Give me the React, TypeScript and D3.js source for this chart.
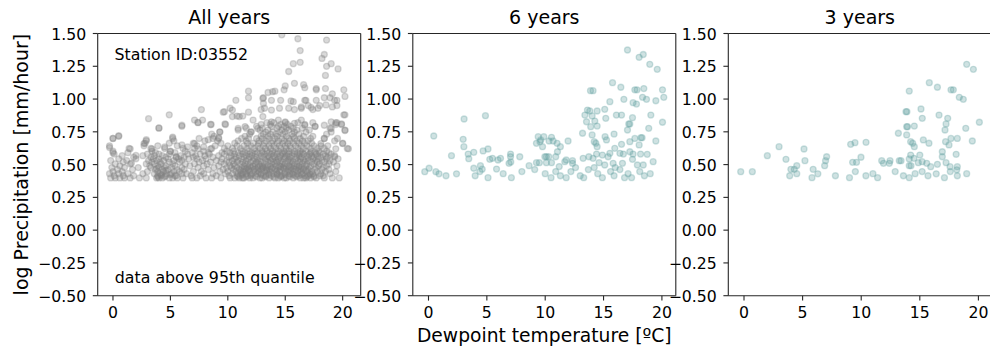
import React from "react";
import * as d3 from "d3";

// ---------- data ----------
const panelTitles = ["All years", "6 years", "3 years"];
const xTickValues = [0, 5, 10, 15, 20];
const yTickValues = [1.5, 1.25, 1.0, 0.75, 0.5, 0.25, 0, -0.25, -0.5];
const yLimits: [number, number] = [-0.5, 1.5];
const xLimits: [number, number][] = [
  [-1.33, 21.57],
  [-1.345, 21.19],
  [-1.34, 21.1],
];
const yLabel = "log Precipitation [mm/hour]";
const xLabel = "Dewpoint temperature [ºC]";
const stationText = "Station ID:03552";
const quantileText = "data above 95th quantile";

// All years: dense band, dewpoints per log-precipitation level
const allYearsRows: [number, number[]][] = [
  [0.398, [-0.2, 0.2, 0.6, 1.0, 1.5, 2.3, 2.9, 3.8, 4.0, 4.3, 4.9, 5.2, 5.6, 6.1, 6.9, 7.3, 8.1, 8.6, 9.4, 10.2, 10.6, 11.0, 11.3, 11.4, 11.9, 12.2, 12.8, 13.0, 13.6, 14.1, 14.4, 14.9, 15.1, 15.7, 16.3, 16.6, 16.8, 17.2, 17.7, 18.4, 19.1, 19.7]],
  [0.407, [3.9, 4.5, 10.9, 11.6, 12.5, 13.3, 14.0, 14.6, 15.4, 16.0, 16.9, 17.5]],
  [0.415, [0.1, 0.9, 1.8, 3.9, 4.2, 4.6, 5.4, 5.5, 6.8, 7.6, 9.0, 10.1, 10.8, 11.1, 11.7, 12.0, 12.4, 13.1, 13.3, 13.8, 14.6, 14.7, 15.3, 15.9, 16.2, 16.7, 17.0, 17.5, 18.0, 18.3]],
  [0.424, [4.2, 5.0, 11.3, 12.0, 12.9, 13.6, 14.3, 15.0, 15.7, 16.4, 17.2]],
  [0.431, [-0.3, 0.5, 1.3, 2.6, 3.6, 4.1, 4.7, 5.1, 6.0, 6.4, 7.9, 8.7, 9.8, 10.4, 10.9, 11.2, 11.6, 12.1, 12.6, 12.9, 13.5, 14.0, 14.3, 14.9, 15.4, 15.6, 16.1, 16.5, 17.1, 17.4, 18.1, 18.9]],
  [0.447, [0.0, 0.8, 3.0, 3.9, 4.4, 5.3, 5.8, 7.0, 7.7, 9.3, 10.0, 10.7, 11.3, 11.5, 11.9, 12.4, 12.7, 13.2, 13.7, 14.2, 14.5, 15.0, 15.2, 15.8, 16.4, 16.9, 17.3, 17.8, 18.5, 19.4]],
  [0.455, [4.6, 11.1, 11.8, 12.6, 13.4, 14.3, 15.5, 16.1, 16.8]],
  [0.462, [0.4, 1.7, 3.7, 4.3, 4.8, 5.6, 6.2, 8.3, 9.6, 10.5, 11.0, 11.4, 11.8, 12.3, 12.9, 13.4, 13.6, 14.1, 14.6, 15.3, 15.9, 16.3, 16.6, 17.0, 17.6, 18.2, 18.8]],
  [0.47, [3.8, 11.6, 12.4, 13.0, 13.8, 14.9, 15.7, 16.6]],
  [0.477, [-0.1, 1.0, 2.2, 3.3, 4.0, 4.5, 5.1, 6.0, 7.4, 8.8, 9.9, 10.3, 10.8, 11.2, 11.7, 12.0, 12.6, 13.1, 13.3, 13.9, 14.4, 14.8, 15.1, 15.5, 16.0, 16.4, 17.1, 17.7, 18.3]],
  [0.484, [12.2, 13.0, 13.7, 14.6, 15.4, 16.2]],
  [0.491, [0.6, 3.2, 3.9, 4.6, 5.4, 6.7, 7.9, 9.2, 10.2, 10.6, 11.4, 11.9, 12.2, 12.8, 13.0, 13.5, 14.2, 14.5, 14.9, 15.3, 15.8, 16.2, 16.8, 17.2, 17.9, 18.6, 19.5]],
  [0.505, [0.2, 1.5, 2.9, 3.6, 4.2, 5.2, 6.3, 7.1, 8.2, 9.7, 10.5, 11.1, 11.5, 11.7, 12.4, 12.7, 13.2, 13.8, 14.1, 14.7, 15.0, 15.6, 16.0, 16.5, 16.9, 17.5, 18.0, 18.8]],
  [0.519, [0.9, 3.4, 4.1, 4.9, 5.8, 7.5, 8.5, 9.4, 10.1, 10.8, 11.3, 12.0, 12.5, 12.9, 13.5, 14.0, 14.3, 14.8, 15.4, 15.7, 16.3, 16.7, 17.3, 17.8, 18.4, 19.2]],
  [0.531, [-0.2, 1.2, 3.1, 3.8, 4.4, 5.3, 6.0, 7.8, 9.0, 9.9, 10.4, 10.9, 11.6, 12.2, 12.6, 13.3, 13.7, 14.2, 14.6, 15.2, 15.5, 16.1, 16.6, 17.0, 17.6, 18.2, 18.9]],
  [0.544, [0.5, 2.0, 3.5, 4.0, 4.8, 5.7, 6.6, 7.3, 8.1, 9.5, 10.6, 11.2, 11.8, 12.3, 12.8, 13.4, 13.9, 14.4, 14.9, 15.3, 15.9, 16.3, 16.8, 17.4, 17.9, 18.6, 19.6]],
  [0.556, [1.8, 3.3, 4.6, 5.5, 6.2, 7.0, 8.7, 10.1, 10.7, 11.4, 11.9, 12.5, 13.1, 13.6, 14.1, 14.5, 15.0, 15.4, 16.0, 16.4, 17.0, 17.5, 18.1, 18.7]],
  [0.568, [0.8, 2.6, 3.6, 4.3, 5.9, 7.2, 8.0, 9.2, 10.3, 11.0, 11.6, 12.1, 12.9, 13.5, 14.0, 14.6, 15.1, 15.6, 16.2, 16.9, 17.3, 17.8, 18.5, 19.3]],
  [0.58, [0.1, 3.0, 4.0, 4.9, 6.5, 7.6, 8.4, 9.7, 10.6, 11.3, 11.9, 12.4, 13.2, 13.8, 14.3, 14.8, 15.3, 15.8, 16.3, 16.6, 17.1, 17.7, 18.3, 19.0]],
  [0.591, [1.3, 3.7, 5.4, 6.9, 8.3, 9.5, 10.2, 10.9, 11.5, 12.1, 12.6, 13.0, 13.6, 14.1, 14.7, 15.0, 15.6, 16.1, 16.5, 17.2, 17.6, 18.0, 18.8]],
  [0.602, [0.0, 3.4, 5.0, 6.3, 7.9, 9.9, 10.5, 11.2, 11.8, 12.4, 13.0, 13.4, 13.9, 14.4, 14.9, 15.3, 15.8, 16.3, 16.8, 17.3, 17.9, 18.6]],
  [0.623, [1.4, 3.3, 4.5, 6.1, 7.1, 8.6, 9.7, 10.4, 11.1, 11.7, 12.3, 12.8, 13.3, 13.7, 14.2, 14.6, 15.1, 15.5, 16.1, 16.6, 17.2, 17.8, 18.4, 20.4]],
  [0.643, [-0.3, 2.7, 3.9, 5.6, 7.3, 8.9, 10.0, 10.8, 11.4, 12.0, 12.6, 13.1, 13.6, 14.0, 14.5, 15.0, 15.4, 15.9, 16.4, 16.9, 17.5, 18.1, 18.7]],
  [0.663, [2.8, 4.9, 7.0, 9.4, 10.6, 11.7, 12.2, 12.7, 13.2, 13.8, 14.3, 14.8, 15.2, 15.7, 16.2, 16.7, 17.3, 20.0]],
  [0.681, [2.9, 5.3, 8.0, 9.1, 10.9, 11.6, 12.7, 13.3, 13.9, 14.4, 14.9, 15.4, 16.0, 16.5, 17.0, 19.3]],
  [0.699, [0.0, 5.2, 7.5, 9.2, 11.2, 11.8, 12.5, 13.0, 13.6, 14.1, 14.7, 15.3, 15.8, 16.3, 17.2, 18.4]],
  [0.716, [0.5, 8.8, 11.5, 12.9, 13.5, 14.3, 15.1, 15.7, 16.6, 17.4]],
  [0.732, [8.6, 11.9, 13.1, 13.7, 14.2, 14.8, 15.6, 16.2, 18.6]],
  [0.748, [9.3, 12.0, 13.3, 13.9, 14.5, 15.0, 15.8, 16.8, 19.0]],
  [0.763, [10.9, 12.8, 13.5, 14.7, 15.3, 16.0, 17.1, 20.2]],
  [0.778, [4.0, 11.6, 13.0, 14.3, 15.1, 15.7, 16.5, 18.9]],
  [0.792, [6.0, 12.5, 13.8, 14.4, 14.9, 15.5, 17.6]],
  [0.806, [8.5, 9.8, 12.9, 13.7, 14.6, 15.2, 16.7, 19.4, 19.9]],
  [0.82, [7.4, 13.4, 14.0, 15.0, 16.1, 17.4, 19.5]],
];

// All years: scattered points [dewpoint, log precipitation]
const allYearsScatter: [number, number][] = [
  [14.7, 1.49], [16.1, 1.46], [18.6, 1.45], [16.3, 1.37], [18.4, 1.34], [18.2, 1.31], [15.7, 1.27], [16.3, 1.28],
  [15.3, 1.21], [18.6, 1.25], [19.0, 1.27], [19.6, 1.23], [18.5, 1.18], [15.8, 1.12], [16.6, 1.11], [15.0, 1.1],
  [11.8, 1.06], [13.5, 1.05], [14.1, 1.06], [13.1, 1.01], [11.8, 1.01], [10.7, 0.99], [14.6, 0.99], [15.7, 0.98],
  [16.7, 0.99], [17.7, 0.99], [17.7, 1.07], [18.5, 1.08], [19.1, 1.04], [20.1, 1.07], [20.2, 1.02], [18.9, 1.01],
  [19.3, 0.99], [17.0, 0.95], [16.4, 0.94], [15.8, 0.92], [15.3, 0.93], [17.4, 0.92], [18.0, 0.95], [19.5, 0.95],
  [20.1, 0.88], [19.9, 0.81], [7.7, 0.92], [9.6, 0.9], [10.2, 0.93], [11.3, 0.87], [10.8, 0.87], [11.8, 0.9],
  [12.9, 0.92], [4.9, 0.88], [3.1, 0.85], [4.0, 0.78], [6.0, 0.8], [7.1, 0.84], [7.8, 0.84], [5.2, 0.71],
  [2.9, 0.69], [0.0, 0.7], [0.5, 0.72], [-0.3, 0.63], [1.5, 0.62], [2.0, 0.57], [0.0, 0.59],
  [13.9, 1.056], [14.9, 1.07], [16.7, 1.087], [17.7, 1.08], [13.05, 1.005], [13.8, 0.99], [15.5, 0.985],
  [16.8, 0.99], [18.4, 1.01], [19.5, 0.99], [13.1, 0.967], [13.2, 0.93], [13.8, 0.916], [14.5, 0.93],
  [16.4, 0.93], [17.25, 0.935], [17.85, 0.93], [18.55, 0.955], [19.1, 0.94], [9.7, 0.904], [10.4, 0.916],
  [11.0, 0.866], [10.4, 0.866], [12.2, 0.84], [13.05, 0.866], [7.4, 0.822], [8.55, 0.806], [9.75, 0.81],
  [13.8, 0.826], [14.4, 0.84], [15.0, 0.826], [15.8, 0.815], [16.4, 0.84], [16.7, 0.8], [17.6, 0.79],
  [18.4, 0.8], [19.0, 0.826], [19.4, 0.82], [20.2, 0.88], [20.2, 0.76], [19.55, 0.7], [19.4, 0.62],
  [20.5, 0.62], [20.0, 0.66], [19.3, 0.56], [18.4, 0.7], [18.1, 0.66], [2.7, 0.66], [3.4, 0.62], [4.5, 0.635],
  [5.0, 0.6], [6.0, 0.65], [6.5, 0.635], [7.1, 0.66], [7.4, 0.62], [7.9, 0.635], [8.5, 0.62], [5.5, 0.56],
  [1.6, 0.51], [9.3, 0.75], [8.7, 0.7], [8.3, 0.69], [9.2, 0.705], [10.9, 0.776], [11.5, 0.79], [12.05, 0.75],
  [12.6, 0.776], [19.0, 0.776],
];

// 6 years
const sixYears: [number, number][] = [
  [17.05, 1.374], [18.05, 1.318], [18.4, 1.34], [18.96, 1.265], [19.6, 1.227],
  [15.77, 1.125], [16.48, 1.09], [17.68, 1.07], [17.87, 1.07], [18.45, 1.08], [20.05, 1.07], [20.16, 1.013],
  [18.34, 1.013], [18.68, 0.998], [19.48, 0.987], [16.74, 0.998], [15.54, 0.98], [17.53, 0.972], [17.82, 0.962],
  [13.88, 1.064], [14.1, 1.064], [13.62, 0.916], [13.82, 0.909], [14.45, 0.909], [13.4, 0.878], [14.02, 0.871],
  [15.1, 0.922], [15.19, 0.853], [16.1, 0.878], [16.54, 0.878], [17.48, 0.858], [19.05, 0.878], [20.05, 0.823],
  [13.54, 0.827], [14.25, 0.832], [13.9, 0.789], [14.45, 0.794], [13.2, 0.739], [14.02, 0.726], [17.16, 0.81], [17.25, 0.81],
  [18.87, 0.777], [17.05, 0.764], [15.13, 0.713], [15.9, 0.733], [14.2, 0.675], [14.34, 0.663], [14.45, 0.637],
  [15.25, 0.688], [16.54, 0.655], [17.25, 0.675], [17.68, 0.7], [18.2, 0.705], [18.3, 0.705], [19.48, 0.68], [18.05, 0.65],
  [15.96, 0.624], [15.54, 0.586], [16.4, 0.586], [16.7, 0.58], [17.25, 0.598], [17.53, 0.58], [18.17, 0.58], [18.74, 0.578],
  [17.48, 0.54], [15.39, 0.56], [14.9, 0.573], [14.4, 0.58], [13.74, 0.56], [13.25, 0.548], [14.1, 0.548], [14.62, 0.515],
  [15.82, 0.51], [16.62, 0.51], [17.9, 0.497], [18.4, 0.497], [19.25, 0.522], [15.1, 0.497],
  [0.45, 0.718], [3.05, 0.848], [4.88, 0.873], [2.97, 0.693], [3.03, 0.637], [1.97, 0.568], [3.4, 0.58], [3.88, 0.594],
  [3.45, 0.545], [4.68, 0.604], [5.1, 0.619], [5.25, 0.54], [5.48, 0.548], [5.96, 0.535], [6.17, 0.548], [7.03, 0.56], [7.03, 0.58],
  [7.05, 0.52], [6.9, 0.51], [7.82, 0.56], [0.05, 0.472], [-0.32, 0.446], [0.63, 0.446], [3.88, 0.472], [4.45, 0.492], [4.6, 0.465],
  [5.83, 0.466], [8.62, 0.492], [9.25, 0.662], [9.4, 0.713], [9.62, 0.688], [9.55, 0.675], [9.88, 0.713], [10.33, 0.68],
  [10.54, 0.708], [10.68, 0.68], [11.02, 0.662], [11.3, 0.637], [11.96, 0.68], [9.77, 0.637], [9.97, 0.56], [10.1, 0.56], [10.3, 0.56],
  [10.54, 0.515], [9.25, 0.515], [9.5, 0.515], [10.1, 0.515], [10.9, 0.56], [11.05, 0.598], [11.68, 0.522], [11.8, 0.535],
  [12.34, 0.53], [12.34, 0.51], [11.2, 0.485],
  [2.4, 0.43], [4.0, 0.415], [4.4, 0.447], [5.1, 0.4], [6.4, 0.431], [7.1, 0.4], [10.0, 0.431], [10.5, 0.4], [10.9, 0.447],
  [11.3, 0.415], [11.8, 0.4], [12.2, 0.447], [13.0, 0.415], [13.7, 0.462], [14.5, 0.431], [14.9, 0.4], [15.6, 0.447],
  [15.9, 0.415], [16.4, 0.462], [17.1, 0.431], [17.4, 0.4], [18.1, 0.447], [18.5, 0.415], [19.0, 0.431], [13.3, 0.4],
  [16.8, 0.4], [14.2, 0.477], [16.0, 0.477], [12.6, 0.477], [8.0, 0.447], [9.1, 0.462], [0.9, 0.43], [1.5, 0.415],
];

// 3 years
const threeYears: [number, number][] = [
  [19.0, 1.265], [19.57, 1.227], [15.81, 1.125], [16.5, 1.09], [17.66, 1.07], [17.86, 1.07], [14.1, 1.061], [18.37, 1.013], [18.71, 0.998],
  [13.82, 0.904], [13.9, 0.904], [15.1, 0.924], [15.21, 0.853], [17.38, 0.853], [16.64, 0.878], [20.08, 0.823], [18.92, 0.777], [17.15, 0.764],
  [17.24, 0.81], [13.88, 0.789], [13.95, 0.789], [14.53, 0.794], [13.88, 0.726], [13.17, 0.739], [14.22, 0.675], [14.39, 0.663], [14.53, 0.637],
  [15.3, 0.688], [15.78, 0.663], [17.2, 0.675], [17.66, 0.7], [18.2, 0.7], [19.48, 0.68], [17.49, 0.65], [16.92, 0.598], [16.92, 0.56], [18.1, 0.578],
  [17.24, 0.515], [17.58, 0.484], [18.2, 0.484], [18.15, 0.46], [14.22, 0.573], [14.1, 0.543], [14.5, 0.548], [15.0, 0.573], [14.87, 0.515],
  [15.2, 0.522], [15.59, 0.51], [16.5, 0.502], [15.93, 0.484], [14.1, 0.492], [14.25, 0.492], [13.25, 0.53], [13.4, 0.53], [12.46, 0.53], [11.75, 0.53],
  [11.9, 0.51], [12.4, 0.51], [10.41, 0.67], [9.47, 0.667], [9.1, 0.655], [9.98, 0.556], [9.27, 0.517], [9.6, 0.517], [7.05, 0.56], [6.96, 0.53],
  [6.88, 0.492], [5.9, 0.464], [5.12, 0.619], [5.2, 0.53], [4.5, 0.492], [4.29, 0.464], [4.0, 0.464], [3.58, 0.54], [2.99, 0.637], [1.99, 0.568],
  [0.71, 0.446], [-0.28, 0.446],
  [3.9, 0.415], [4.5, 0.431], [5.8, 0.4], [6.3, 0.43], [7.8, 0.415], [9.0, 0.4], [9.5, 0.447], [10.4, 0.415], [11.0, 0.431], [11.4, 0.4],
  [12.9, 0.447], [13.6, 0.415], [14.1, 0.4], [14.6, 0.431], [15.2, 0.447], [15.7, 0.415], [16.4, 0.43], [17.1, 0.4], [17.6, 0.447],
  [18.2, 0.415], [19.0, 0.431],
];

const allYears: [number, number][] = [
  ...allYearsRows.flatMap(([p, dews]) => dews.map((d) => [d, p] as [number, number])),
  ...allYearsScatter,
];

const panelData = [allYears, sixYears, threeYears];
const panelColors = ["#808080", "#5f9ea0", "#5f9ea0"];
const panelAlphas = [0.3, 0.3, 0.3];

// ---------- layout ----------
const WIDTH = 990;
const HEIGHT = 349;
const panelLefts = [97.7, 412.8, 728.3];
const panelWidth = 263;
const plotTop = 33.5;
const plotBottom = 295.7;
const FONT = "DejaVu Sans, Verdana, sans-serif";
const spineColor = "#262626";
const fmt = d3.format(".2f");

function Panel({ i }: { i: number }) {
  const left = panelLefts[i];
  const right = left + panelWidth;
  const x = d3.scaleLinear().domain(xLimits[i]).range([left, right]);
  const y = d3.scaleLinear().domain(yLimits).range([plotBottom, plotTop]);
  const clipId = `clip-${i}`;
  return (
    <g>
      <defs>
        <clipPath id={clipId}>
          <rect x={left} y={plotTop} width={panelWidth} height={plotBottom - plotTop} />
        </clipPath>
      </defs>
      <g clipPath={`url(#${clipId})`}>
        {panelData[i].map(([d, p], k) => (
          <circle
            key={k}
            cx={x(d)}
            cy={y(p)}
            r={3}
            fill={panelColors[i]}
            fillOpacity={panelAlphas[i]}
            stroke={panelColors[i]}
            strokeOpacity={panelAlphas[i]}
            strokeWidth={1.3}
          />
        ))}
      </g>
      <g stroke={spineColor} strokeWidth={1.1} fill="none">
        <line x1={left} x2={left} y1={plotTop} y2={plotBottom} />
        <line x1={right} x2={right} y1={plotTop} y2={plotBottom} />
        <line x1={left} x2={right} y1={plotTop} y2={plotTop} />
        <line x1={left} x2={right} y1={plotBottom} y2={plotBottom} />
      </g>
      {yTickValues.map((t) => (
        <g key={`y${t}`}>
          <line x1={left - 4.9} x2={left} y1={y(t)} y2={y(t)} stroke={spineColor} strokeWidth={1.1} />
          <text x={left - 11.5} y={y(t) + 6} textAnchor="end" fontFamily={FONT} fontSize={15.7} fill="#000">
            {fmt(t)}
          </text>
        </g>
      ))}
      {xTickValues.map((t) => (
        <g key={`x${t}`}>
          <line x1={x(t)} x2={x(t)} y1={plotBottom} y2={plotBottom + 4.9} stroke={spineColor} strokeWidth={1.1} />
          <text x={x(t)} y={plotBottom + 22.6} textAnchor="middle" fontFamily={FONT} fontSize={15.7} fill="#000">
            {String(t)}
          </text>
        </g>
      ))}
      <text x={(left + right) / 2} y={24} textAnchor="middle" fontFamily={FONT} fontSize={19} fill="#000">
        {panelTitles[i]}
      </text>
    </g>
  );
}

export default function App() {
  const centre2 = panelLefts[1] + panelWidth / 2;
  return (
    <svg
      width={WIDTH}
      height={HEIGHT}
      viewBox={`0 0 ${WIDTH} ${HEIGHT}`}
      style={{ position: "absolute", left: 0, top: 0, background: "#fff" }}
    >
      <rect x={0} y={0} width={WIDTH} height={HEIGHT} fill="#fff" />
      {[0, 1, 2].map((i) => (
        <Panel key={i} i={i} />
      ))}
      <text x={114.6} y={60} fontFamily={FONT} fontSize={15.8} fill="#000">
        {stationText}
      </text>
      <text x={114.8} y={283.3} fontFamily={FONT} fontSize={15.8} fill="#000">
        {quantileText}
      </text>
      <text
        transform={`translate(27.6, ${(plotTop + plotBottom) / 2}) rotate(-90)`}
        textAnchor="middle"
        fontFamily={FONT}
        fontSize={19}
        fill="#000"
      >
        {yLabel}
      </text>
      <text x={centre2} y={342} textAnchor="middle" fontFamily={FONT} fontSize={18.7} fill="#000">
        {xLabel}
      </text>
    </svg>
  );
}
